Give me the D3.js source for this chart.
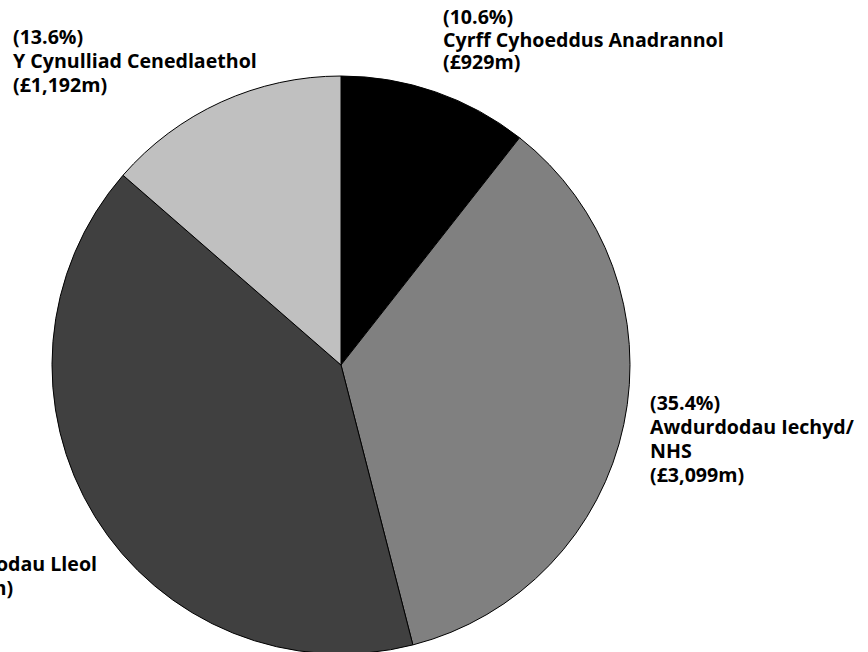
<!DOCTYPE html>
<html>
<head>
<meta charset="utf-8">
<script src="https://cdn.jsdelivr.net/npm/d3@7"></script>
<style>
  body { margin: 0; background: #fff; }
  svg { display: block; }
  text { font-family: "Open Sans", "DejaVu Sans", sans-serif; font-weight: bold; font-size: 19.6px; fill: #000; }
</style>
</head>
<body>
<svg id="chart"></svg>
<script>
// slices clockwise from 12 o'clock
const names = [
  ["Cyrff Cyhoeddus Anadrannol"],
  ["Awdurdodau Iechyd/", "NHS"],
  ["Awdurdodau Lleol"],
  ["Y Cynulliad Cenedlaethol"]
];
const shares = [10.6, 35.4, 40.4, 13.6];
const amounts = ["£929m", "£3,099m", "£3,540m", "£1,192m"];
const colours = ["#000000", "#808080", "#404040", "#c0c0c0"];

const width = 868, height = 652;
const cx = 341, cy = 365, radius = 289;

const svg = d3.select("#chart").attr("width", width).attr("height", height);
const g = svg.append("g").attr("transform", "translate(" + cx + "," + cy + ")");

const pie = d3.pie().sort(null).value(d => d);
const arc = d3.arc().innerRadius(0).outerRadius(radius);

g.selectAll("path")
  .data(pie(shares))
  .enter()
  .append("path")
  .attr("d", arc)
  .attr("fill", (d, i) => colours[i])
  .attr("stroke", "#000")
  .attr("stroke-width", 1);

// label anchors: [x, first baseline, line height]; null x = left label whose name line ends at x=97
const labelPos = [[443, 24, 22.5], [650, 410, 24], [null, 547, 24], [13, 44, 24]];

names.forEach((nm, i) => {
  const lines = ["(" + shares[i].toFixed(1) + "%)"].concat(nm, ["(" + amounts[i] + ")"]);
  const t = svg.append("text");
  lines.forEach((l, j) => {
    t.append("tspan").attr("x", 0).attr("y", labelPos[i][1] + j * labelPos[i][2]).text(l);
  });
  let x = labelPos[i][0];
  if (x === null) {
    const w = t.selectAll("tspan").nodes()[1].getComputedTextLength();
    x = 97 - w;
  }
  t.selectAll("tspan").attr("x", x);
});
</script>
</body>
</html>
